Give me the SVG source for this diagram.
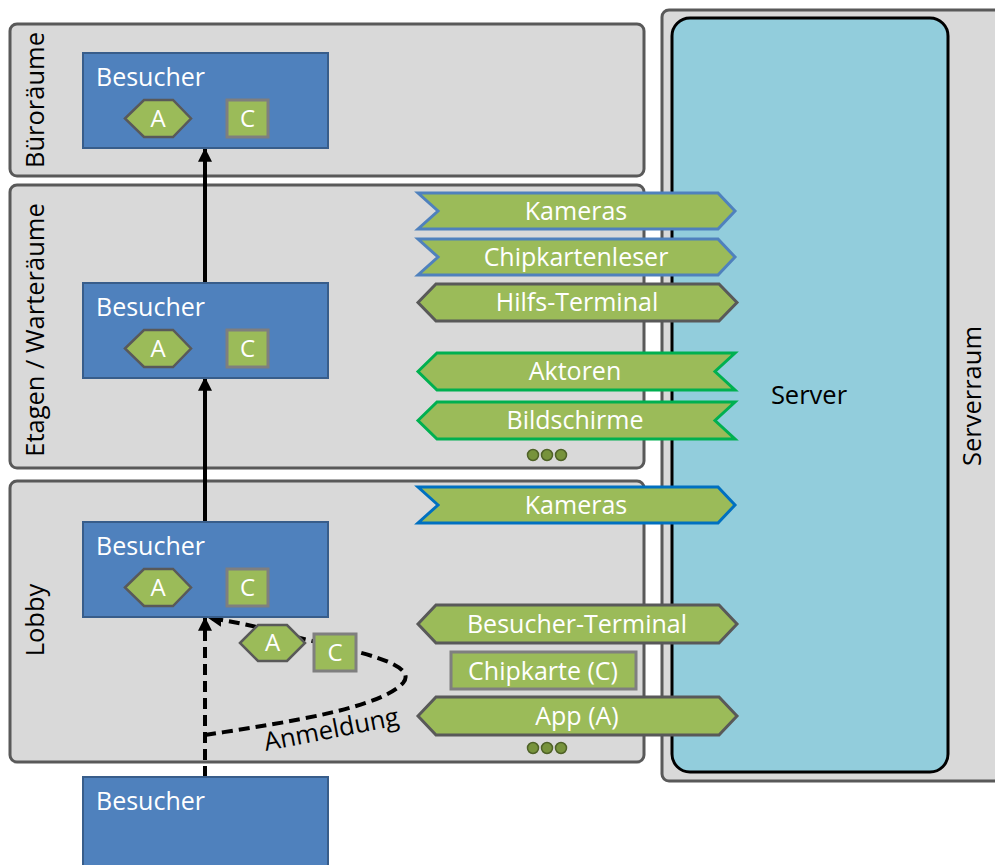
<svg xmlns="http://www.w3.org/2000/svg" width="995" height="865" viewBox="0 0 995 865">
  <style>
    .zone { fill: #d9d9d9; stroke: #595959; stroke-width: 3; }
    .server { fill: #92cddc; stroke: #000; stroke-width: 3; }
    .lbl { font-family: "Open Sans", "Liberation Sans", sans-serif; font-size: 25.5px; fill: #000; }
    .visitor { fill: #4f81bd; stroke: #385d8a; stroke-width: 2; }
    .vtitle { font-family: "Open Sans", "Liberation Sans", sans-serif; font-size: 25px; fill: #fff; }
    .tok { fill: #9bbb59; stroke: #595959; stroke-width: 2.5; }
    .card { fill: #9bbb59; stroke: #7f7f7f; stroke-width: 3; }
    .tokt { font-family: "Open Sans", "Liberation Sans", sans-serif; font-size: 24px; fill: #fff; text-anchor: middle; }
    .ban { fill: #9bbb59; stroke-width: 3; }
    .bant { font-family: "Open Sans", "Liberation Sans", sans-serif; font-size: 25px; fill: #fff; text-anchor: middle; }
    .dot { fill: #77933c; stroke: #4f6228; stroke-width: 1.5; }
    .flow { fill: none; stroke: #000; stroke-width: 4; }
    .dash { stroke-dasharray: 11 6; }
  </style>
  <defs>
    <marker id="head" viewBox="0 0 12 12" refX="11" refY="6" markerWidth="14" markerHeight="14" markerUnits="userSpaceOnUse" orient="auto">
      <path d="M0,0 L12,6 L0,12 Z" fill="#000"/>
    </marker>
  </defs>

  <!-- rooms -->
  <g id="zone-buero">
    <rect class="zone" x="10" y="24" width="634" height="152" rx="7"/>
    <text class="lbl" transform="translate(44 100) rotate(-90)" text-anchor="middle">Büroräume</text>
  </g>
  <g id="zone-etagen">
    <rect class="zone" x="10" y="185" width="634" height="283" rx="7"/>
    <text class="lbl" transform="translate(44 330) rotate(-90)" text-anchor="middle">Etagen / Warteräume</text>
  </g>
  <g id="zone-lobby">
    <rect class="zone" x="10" y="481" width="634" height="281" rx="7"/>
    <text class="lbl" transform="translate(44 620) rotate(-90)" text-anchor="middle">Lobby</text>
  </g>
  <g id="zone-serverraum">
    <rect class="zone" x="662" y="10" width="350" height="771" rx="7"/>
    <text class="lbl" transform="translate(981 396) rotate(-90)" text-anchor="middle">Serverraum</text>
  </g>
  <g id="server">
    <rect class="server" x="672" y="18" width="276" height="754" rx="18"/>
    <text class="lbl" x="809" y="404" text-anchor="middle">Server</text>
  </g>

  <!-- connectors -->
  <g id="connectors">
    <line class="flow" x1="205" y1="283" x2="205" y2="149" marker-end="url(#head)"/>
    <line class="flow" x1="205" y1="522" x2="205" y2="378" marker-end="url(#head)"/>
    <line class="flow dash" x1="205" y1="777" x2="205" y2="618" marker-end="url(#head)"/>
    <path class="flow dash" d="M205,735 C290,722 380,708 403,683 C420,663 350,650 300,638 C262,628 238,622 209,618" marker-end="url(#head)"/>
    <text class="lbl" transform="translate(333 738) rotate(-11)" text-anchor="middle">Anmeldung</text>
  </g>

  <!-- visitors -->
  <g id="visitor-buero">
    <rect class="visitor" x="83" y="53" width="245" height="95"/>
    <text class="vtitle" x="96" y="86">Besucher</text>
    <polygon class="tok" points="125,118.5 144,100 173,100 191,118.5 173,137 144,137"/>
    <text class="tokt" x="158" y="127">A</text>
    <rect class="card" x="227" y="100" width="41" height="37"/>
    <text class="tokt" x="247.5" y="127">C</text>
  </g>
  <g id="visitor-etagen">
    <rect class="visitor" x="83" y="283" width="245" height="95"/>
    <text class="vtitle" x="96" y="316">Besucher</text>
    <polygon class="tok" points="125,348.5 144,330 173,330 191,348.5 173,367 144,367"/>
    <text class="tokt" x="158" y="357">A</text>
    <rect class="card" x="227" y="330" width="41" height="37"/>
    <text class="tokt" x="247.5" y="357">C</text>
  </g>
  <g id="visitor-lobby">
    <rect class="visitor" x="83" y="522" width="245" height="95"/>
    <text class="vtitle" x="96" y="555">Besucher</text>
    <polygon class="tok" points="125,587.5 144,569 173,569 191,587.5 173,606 144,606"/>
    <text class="tokt" x="158" y="596">A</text>
    <rect class="card" x="227" y="569" width="41" height="37"/>
    <text class="tokt" x="247.5" y="596">C</text>
  </g>
  <g id="visitor-entrance">
    <rect class="visitor" x="83" y="777" width="245" height="95"/>
    <text class="vtitle" x="96" y="810">Besucher</text>
  </g>
  <g id="signin-tokens">
    <polygon class="tok" points="240,643 258,625 287,625 305,643 287,661 258,661"/>
    <text class="tokt" x="272.5" y="651">A</text>
    <rect class="card" x="314" y="634" width="42" height="37"/>
    <text class="tokt" x="335" y="661">C</text>
  </g>

  <!-- devices -->
  <g id="dev-kameras-etage">
    <polygon class="ban" stroke="#4f81bd" points="418,193 718,193 735,211 718,229 418,229 438,211"/>
    <text class="bant" x="576" y="220">Kameras</text>
  </g>
  <g id="dev-chipkartenleser">
    <polygon class="ban" stroke="#4f81bd" points="418,239 718,239 735,257 718,275 418,275 438,257"/>
    <text class="bant" x="576" y="266">Chipkartenleser</text>
  </g>
  <g id="dev-hilfs-terminal">
    <polygon class="ban" stroke="#595959" points="418,302.5 436,284 719,284 737,302.5 719,321 436,321"/>
    <text class="bant" x="577" y="311">Hilfs-Terminal</text>
  </g>
  <g id="dev-aktoren">
    <polygon class="ban" stroke="#00b050" points="418,371.5 437,353 735,353 715,371.5 735,390 437,390"/>
    <text class="bant" x="575" y="380">Aktoren</text>
  </g>
  <g id="dev-bildschirme">
    <polygon class="ban" stroke="#00b050" points="418,420.5 437,402 735,402 715,420.5 735,439 437,439"/>
    <text class="bant" x="575" y="429">Bildschirme</text>
  </g>
  <g id="dev-more-etage">
    <circle class="dot" cx="533" cy="455" r="5.5"/>
    <circle class="dot" cx="547" cy="455" r="5.5"/>
    <circle class="dot" cx="561" cy="455" r="5.5"/>
  </g>
  <g id="dev-kameras-lobby">
    <polygon class="ban" stroke="#0070c0" points="418,487 718,487 735,505 718,523 418,523 438,505"/>
    <text class="bant" x="576" y="514">Kameras</text>
  </g>
  <g id="dev-besucher-terminal">
    <polygon class="ban" stroke="#595959" points="418,624 436,605 719,605 737,624 719,643 436,643"/>
    <text class="bant" x="577" y="633">Besucher-Terminal</text>
  </g>
  <g id="dev-chipkarte">
    <rect class="card" x="451" y="652" width="185" height="37"/>
    <text class="bant" x="543" y="680">Chipkarte (C)</text>
  </g>
  <g id="dev-app">
    <polygon class="ban" stroke="#595959" points="418,716 436,697 719,697 737,716 719,735 436,735"/>
    <text class="bant" x="577" y="725">App (A)</text>
  </g>
  <g id="dev-more-lobby">
    <circle class="dot" cx="533" cy="748" r="5.5"/>
    <circle class="dot" cx="547" cy="748" r="5.5"/>
    <circle class="dot" cx="561" cy="748" r="5.5"/>
  </g>
</svg>
